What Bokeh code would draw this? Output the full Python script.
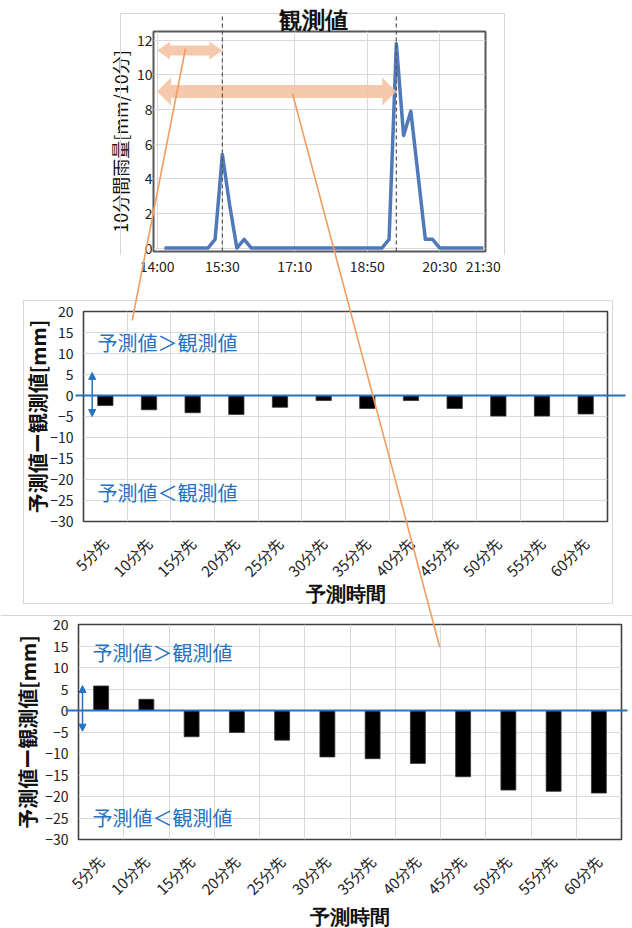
import math
from bokeh.plotting import figure
from bokeh.models import FactorRange, Range1d, FixedTicker, Arrow, NormalHead, Label
from bokeh.layouts import column
from bokeh.embed import file_html
from bokeh.resources import INLINE

FONT = "Noto Sans CJK JP"

# ---------------- data ----------------
rain_times = ["14:10", "14:20", "14:30", "14:40", "14:50", "15:00", "15:10", "15:20", "15:30",
              "15:40", "15:50", "16:00", "16:10", "16:20", "16:30", "16:40", "16:50", "17:00",
              "17:10", "17:20", "17:30", "17:40", "17:50", "18:00", "18:10", "18:20", "18:30",
              "18:40", "18:50", "19:00", "19:10", "19:20", "19:30", "19:40", "19:50", "20:00",
              "20:10", "20:20", "20:30", "20:40", "20:50", "21:00", "21:10", "21:20", "21:30"]
rain_mm = [0, 0, 0, 0, 0, 0, 0, 0.5, 5.4,
           2.5, 0, 0.5, 0, 0, 0, 0, 0, 0,
           0, 0, 0, 0, 0, 0, 0, 0, 0,
           0, 0, 0, 0, 0.5, 11.8, 6.5, 7.9, 4.2,
           0.5, 0.5, 0, 0, 0, 0, 0, 0, 0]
time_tick_labels = ["14:00", "15:30", "17:10", "18:50", "20:30", "21:30"]
rain_ticks = [0, 2, 4, 6, 8, 10, 12]
forecast_start = "14:00"
peak_times = ["15:30", "19:30"]

lead_labels = ["5分先", "10分先", "15分先", "20分先", "25分先", "30分先",
               "35分先", "40分先", "45分先", "50分先", "55分先", "60分先"]
err_first_peak = [-2.4, -3.4, -4.1, -4.5, -2.8, -1.2, -3.1, -1.2, -3.1, -4.9, -4.9, -4.4]
err_second_peak = [5.7, 2.6, -6.1, -5.1, -6.9, -10.8, -11.2, -12.3, -15.4, -18.5, -18.8, -19.2]
err_ticks = [-30, -25, -20, -15, -10, -5, 0, 5, 10, 15, 20]

# ---------------- styles ----------------
W = 632
H = 928
BLUE_LINE = "#5079B9"
PEACH = "#F6C2A0"
ORANGE = "#F19C60"
MARK_BLUE = "#2472C0"
GRID = "#d9d9d9"
FAINT = "#d6d6d6"


def minutes(t):
    h, m = t.split(":")
    return (int(h) - 14) * 60 + int(m)


def make_mapper(fx0, fx1, fy0, fy1, xr, yr):
    """global pixel -> data of a chart whose frame sits at (fx0..fx1, fy0..fy1)"""
    def f(gx, gy):
        x = xr[0] + (gx - fx0) / (fx1 - fx0) * (xr[1] - xr[0])
        y = yr[1] - (gy - fy0) / (fy1 - fy0) * (yr[1] - yr[0])
        return x, y
    return f


def make_inverse(fx0, fx1, fy0, fy1, xr, yr):
    """data of a chart -> global pixel"""
    def f(x, y):
        gx = fx0 + (x - xr[0]) / (xr[1] - xr[0]) * (fx1 - fx0)
        gy = fy0 + (yr[1] - y) / (yr[1] - yr[0]) * (fy1 - fy0)
        return gx, gy
    return f


def style_common(p):
    for ax in (p.xaxis[0], p.yaxis[0]):
        ax.axis_line_color = None
        ax.major_tick_line_color = None
        ax.minor_tick_line_color = None
        ax.major_tick_out = 0
        ax.major_tick_in = 0
        ax.major_label_text_font = FONT
        ax.major_label_text_color = "#222222"
        ax.axis_label_text_font = FONT
        ax.axis_label_text_font_style = "bold"
        ax.axis_label_text_color = "#111111"
    p.outline_line_color = "#404040"
    p.outline_line_width = 1.6
    p.xgrid.grid_line_color = GRID
    p.ygrid.grid_line_color = GRID
    p.background_fill_color = "white"
    p.border_fill_color = "white"


# ---------------- top: observed rainfall ----------------
TH = 288
TFX0, TFX1, TFY0, TFY1 = 153, 485, 31, 251
TXR = (-5, 453)
TYR = (-0.2, 12.5)
top = figure(width=W, height=TH, x_range=Range1d(*TXR), y_range=Range1d(*TYR),
             output_backend="svg", toolbar_location=None, frame_align=False,
             min_border_left=TFX0, min_border_right=W - TFX1,
             min_border_top=TFY0, min_border_bottom=TH - TFY1)
style_common(top)
top.outline_line_color = "#595959"
top.outline_line_width = 2

tick_pos = [minutes(t) for t in time_tick_labels]
top.xaxis.ticker = FixedTicker(ticks=tick_pos)
top.xaxis.major_label_overrides = {minutes(t): t for t in time_tick_labels}
top.xgrid.ticker = FixedTicker(ticks=tick_pos[:-1])
top.xaxis.major_label_text_font_size = "14px"
top.xaxis.major_label_standoff = 4
top.yaxis.ticker = FixedTicker(ticks=rain_ticks)
top.yaxis.major_label_text_font_size = "14px"
top.yaxis.major_label_standoff = 1
top.yaxis.axis_label = "10分間雨量[mm/10分]"
top.yaxis.axis_label_text_font_size = "18px"
top.yaxis.axis_label_text_font_style = "normal"
top.yaxis.axis_label_standoff = 1

tm = make_mapper(TFX0, TFX1, TFY0, TFY1, TXR, TYR)
tinv = make_inverse(TFX0, TFX1, TFY0, TFY1, TXR, TYR)

top.line(x=[minutes(t) for t in rain_times], y=rain_mm, line_color=BLUE_LINE,
         line_width=3.5, line_join="round")


# peach double arrows (forecast start -> peak)
def double_arrow(p, x0d, x1d, gyc, body_h, head_h, head_l, color):
    gx0, _ = tinv(x0d, 0)
    gx1, _ = tinv(x1d, 0)
    pts = [(gx0, gyc), (gx0 + head_l, gyc - head_h), (gx0 + head_l, gyc - body_h),
           (gx1 - head_l, gyc - body_h), (gx1 - head_l, gyc - head_h), (gx1, gyc),
           (gx1 - head_l, gyc + head_h), (gx1 - head_l, gyc + body_h),
           (gx0 + head_l, gyc + body_h), (gx0 + head_l, gyc + head_h)]
    dp = [tm(a, b) for a, b in pts]
    p.patch(x=[q[0] for q in dp], y=[q[1] for q in dp], fill_color=color,
            fill_alpha=0.88, line_color=None)


double_arrow(top, minutes(forecast_start), minutes(peak_times[0]), 50, 5, 9, 13, PEACH)
double_arrow(top, minutes(forecast_start), minutes(peak_times[1]), 91, 6.5, 14, 14, PEACH)


# ---------------- error charts ----------------
def error_chart(values, fig_top, fig_h, fx0, fx1, fy0, fy1, bar_w, ylab_standoff,
                arrow_px, arrow_range, text_px, text_y):
    p = figure(width=W, height=fig_h, x_range=FactorRange(factors=lead_labels),
               y_range=Range1d(-30, 20), output_backend="svg", toolbar_location=None,
               frame_align=False,
               min_border_left=fx0, min_border_right=W - fx1,
               min_border_top=fy0 - fig_top, min_border_bottom=fig_top + fig_h - fy1)
    style_common(p)
    p.xgrid.ticker = FixedTicker(ticks=list(range(1, len(lead_labels))))
    p.yaxis.ticker = FixedTicker(ticks=err_ticks)
    p.yaxis.major_label_text_font_size = "14px"
    p.yaxis.major_label_standoff = 10
    p.xaxis.major_label_text_font_size = "15px"
    p.xaxis.major_label_orientation = math.pi / 4
    p.xaxis.major_label_standoff = 19
    p.yaxis.axis_label = "予測値ー観測値[mm]"
    p.yaxis.axis_label_text_font_size = "20px"
    p.yaxis.axis_label_standoff = ylab_standoff

    m = make_mapper(fx0, fx1, fy0, fy1, (0, len(lead_labels)), (-30, 20))

    p.vbar(x=lead_labels, top=values, bottom=0, width=bar_w, fill_color="black",
           line_color="#333333", line_width=0.8)

    xr_, _ = m(arrow_px, 0)
    p.add_layout(Arrow(x_start=xr_, y_start=arrow_range[0], x_end=xr_, y_end=arrow_range[1],
                       line_color=MARK_BLUE, line_width=1.5,
                       start=NormalHead(size=7, fill_color=MARK_BLUE, line_color=MARK_BLUE),
                       end=NormalHead(size=7, fill_color=MARK_BLUE, line_color=MARK_BLUE)))
    xt, _ = m(text_px, 0)
    p.add_layout(Label(x=xt, y=text_y[0], text="予測値＞観測値", text_font=FONT,
                       text_font_size="20px", text_color=MARK_BLUE,
                       text_align="left", text_baseline="middle"))
    p.add_layout(Label(x=xt, y=text_y[1], text="予測値＜観測値", text_font=FONT,
                       text_font_size="20px", text_color=MARK_BLUE,
                       text_align="left", text_baseline="middle"))
    inv = make_inverse(fx0, fx1, fy0, fy1, (0, len(lead_labels)), (-30, 20))
    return p, inv


MID = (83, 607, 311, 521)
BOT = (78, 621, 624, 839)
mid, mid_inv = error_chart(err_first_peak, 288, 320, *MID, 0.35, -5,
                           91.7, (-5, 5.5), 97, (12.6, -23.2))
bot, bot_inv = error_chart(err_second_peak, 608, 320, *BOT, 0.33, 0,
                           82, (-4.8, 5.8), 92, (13.5, -24.8))

# ---------------- transparent overlay (page-wide pixel space) ----------------
ov = figure(width=W, height=H, x_range=Range1d(0, W), y_range=Range1d(H, 0),
            output_backend="svg", toolbar_location=None, x_axis_type=None, y_axis_type=None,
            min_border=0, margin=(-H, 0, 0, 0), frame_align=False,
            background_fill_color=None, border_fill_color=None, outline_line_color=None)
ov.grid.visible = False

# faint panel frames of the composed picture
ov.segment(x0=[120, 120, 504], y0=[13, 13, 13], x1=[504, 120, 504], y1=[13, 254, 254],
           line_color=FAINT, line_width=1)
ov.segment(x0=[23, 23, 612, 23, 0], y0=[300, 300, 300, 603, 615],
           x1=[612, 23, 612, 612, W], y1=[300, 603, 603, 603, 615],
           line_color=FAINT, line_width=1)

# dashed peak markers (run above the frame)
for t in peak_times:
    gx, gy_bot = tinv(minutes(t), TYR[0])
    ov.line(x=[gx, gx], y=[16, gy_bot], line_color="#555555", line_width=1.2, line_dash="4 3")

# title of the observed chart
ov.text(x=[313], y=[20], text=["観測値"], text_font="Noto Sans CJK JP",
        text_font_size="23px", text_font_style="bold", text_align="center",
        text_baseline="middle", text_color="#111111")

# x-axis titles of the two error charts (centred under their frames)
for (fx0, fx1, _, fy1), gy in ((MID, 593), (BOT, 916)):
    ov.text(x=[(fx0 + fx1) / 2], y=[gy], text=["予測時間"], text_font="Noto Sans CJK JP",
            text_font_size="20px", text_font_style="bold", text_align="center",
            text_baseline="middle", text_color="#111111")

# zero reference lines (reach a little past the frames)
for inv, (x_left, x_right) in ((mid_inv, (75, 625)), (bot_inv, (65, 627))):
    _, gy0 = inv(0, 0)
    ov.line(x=[x_left, x_right], y=[gy0, gy0], line_color=MARK_BLUE, line_width=1.8)

# orange connectors from the arrows to the charts below
ov.line(x=[185, 131.7], y=[48, 320], line_color=ORANGE, line_width=1.6)
ov.line(x=[292, 439.3], y=[93, 646.7], line_color=ORANGE, line_width=1.6)

layout = column(top, mid, bot, ov, spacing=0)
open("out.html", "w").write(file_html(layout, INLINE))
